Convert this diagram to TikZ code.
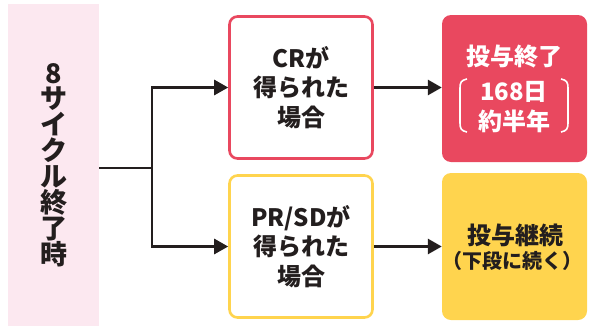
\documentclass[tikz,border=0pt]{standalone}
\usepackage{fontspec}
\setmainfont{Noto Sans CJK JP}[BoldFont={Noto Sans CJK JP Black}]
\usetikzlibrary{arrows.meta,calc}
\definecolor{inkdark}{RGB}{35,30,30}
\definecolor{cyclepink}{RGB}{252,232,240}
\definecolor{endred}{RGB}{233,72,95}
\definecolor{goyellow}{RGB}{255,212,78}
\tikzset{
  caseframe/.style={draw, line width=2.6pt, fill=white, rounded corners=8pt,
    minimum width=143pt, minimum height=142pt, align=center, text=inkdark,
    font=\bfseries\fontsize{24}{29.5}\selectfont},
  resultbox/.style={rounded corners=9pt, minimum width=145pt, minimum height=147pt},
  flowline/.style={draw=inkdark, line width=2.8pt},
  flowarrow/.style={flowline, -{Triangle[length=14pt,width=15pt]}}
}

\begin{document}
\begin{tikzpicture}[x=1pt,y=-1pt]
  %%%%% START %%%%%
  \useasboundingbox (0,0) rectangle (589,327);

  \node[fill=cyclepink, minimum width=91pt, minimum height=322pt, align=center,
        text=inkdark, font=\bfseries\fontsize{27}{25.9}\selectfont]
        (cycle) at (53.5,165) {8\\サ\\イ\\ク\\ル\\終\\了\\時};

  \node[caseframe, draw=endred] (cr) at (301,87.5) {CRが\\得られた\\場合};
  \node[caseframe, draw=goyellow] (prsd) at (301,246.5) {PR/SDが\\得られた\\場合};

  \node[resultbox, fill=endred] (stop) at (514.5,88.5) {};
  \node[resultbox, fill=goyellow] (cont) at (514.5,246.5) {};

  % red box texts
  \node[text=white, font=\bfseries\fontsize{24}{26}\selectfont] (stoptitle) at (514,56) {投与終了};
  \node[text=white, align=center, font=\bfseries\fontsize{24}{30}\selectfont] (stopdays) at (514,107) {168日\\約半年};
  \draw[white, line width=1.6pt] (467,79) .. controls (461,80) and (460,83) .. (460,88) -- (460,123) .. controls (460,128) and (461,131) .. (467,132);
  \draw[white, line width=1.6pt] (561,79) .. controls (567,80) and (568,83) .. (568,88) -- (568,123) .. controls (568,128) and (567,131) .. (561,132);

  % yellow box texts
  \node[text=inkdark, font=\bfseries\fontsize{24}{26}\selectfont] (conttitle) at (515,235) {投与継続};
  \node[text=inkdark, font=\bfseries\fontsize{20}{22}\selectfont] (contnote) at (512,261) {（下段に続く）};

  % connectors
  \coordinate (fork) at (152,168);
  \draw[flowline] (cycle.east |- fork) -- (fork);
  \draw[flowarrow, line cap=rect] (fork) |- (cr.west);
  \draw[flowarrow, line cap=rect] (fork) |- (prsd.west);
  \draw[flowarrow] (cr.east) -- (cr.east -| stop.west);
  \draw[flowarrow] (prsd.east) -- (cont.west);
  %%%%% END %%%%%
\end{tikzpicture}
\end{document}
